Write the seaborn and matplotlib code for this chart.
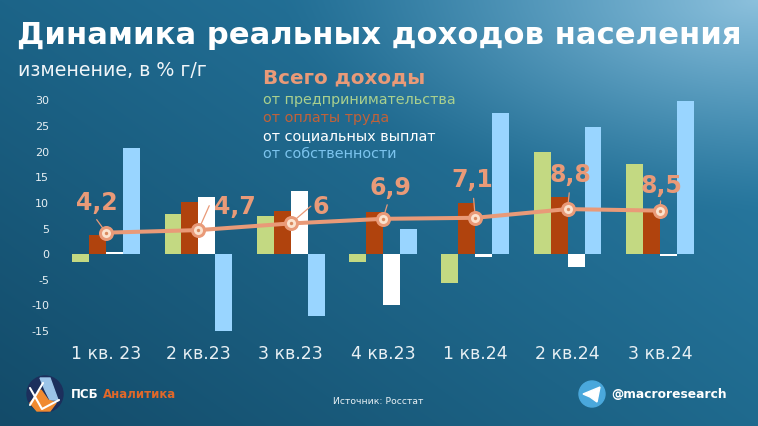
import matplotlib
matplotlib.use("Agg")
import matplotlib.pyplot as plt
from matplotlib.patches import Circle, Polygon
import numpy as np
import pandas as pd
import seaborn as sns

quarters = ["1 кв. 23", "2 кв.23", "3 кв.23", "4 кв.23", "1 кв.24", "2 кв.24", "3 кв.24"]
business = [-1.5, 7.9, 7.5, -1.5, -5.7, 20.0, 17.6]
wages = [3.7, 10.1, 8.4, 8.3, 10.0, 11.2, 8.5]
social = [0.4, 11.2, 12.3, -9.9, -0.5, -2.5, -0.3]
property_inc = [20.8, -15.0, -12.0, 5.0, 27.6, 24.9, 30.0]
total = [4.2, 4.7, 6.0, 6.9, 7.1, 8.8, 8.5]
total_labels = ["4,2", "4,7", "6", "6,9", "7,1", "8,8", "8,5"]
series_names = ["от предпринимательства", "от оплаты труда", "от социальных выплат", "от собственности"]
y_ticks = [-15, -10, -5, 0, 5, 10, 15, 20, 25, 30]

# label centre and leader end, as offsets from the point in points
label_offsets = [(-7, 21), (26, 16.5), (21.5, 12), (5, 22), (-2, 27), (2, 24.5), (1, 17.5)]
leader_offsets = [(-8, 11), (8.6, 19.4), (16, 13.7), (3.6, 12), (-1.4, 16), (1.4, 13.7), (0.7, 9)]

BAR_COLORS = ["#c3d982", "#b0430d", "#ffffff", "#99d5ff"]
LEGEND_COLORS = ["#a9d08e", "#c0623a", "#ffffff", "#7cc4ee"]
ORANGE = "#e99a78"
W, H = 758, 426

sns.set_theme(style="white")
plt.rcParams["font.family"] = ["DejaVu Sans"]
plt.rcParams["axes.unicode_minus"] = False

df = pd.DataFrame({"quarter": quarters, series_names[0]: business, series_names[1]: wages,
                   series_names[2]: social, series_names[3]: property_inc})
long_df = df.melt(id_vars="quarter", var_name="source", value_name="change")

fig = plt.figure(figsize=(W / 100, H / 100), dpi=100)

# gradient background: four corners plus a light glow top right
bg = fig.add_axes([0, 0, 1, 1], zorder=0)
yy, xx = np.mgrid[0:1:426j, 0:1:758j]
xx, yy = xx[..., None], yy[..., None]
tl, tr = np.array([0x1c, 0x64, 0x88]) / 255, np.array([0x2c, 0x80, 0xaa]) / 255
bl, br = np.array([0x13, 0x4b, 0x69]) / 255, np.array([0x1f, 0x6a, 0x8e]) / 255
img = (tl * (1 - xx) + tr * xx) * (1 - yy) + (bl * (1 - xx) + br * xx) * yy
glow = np.clip(1 - np.hypot((1 - xx) * 1.6, yy * 2.0), 0, 1) ** 1.3
light = np.array([0x8c, 0xc0, 0xdc]) / 255
img = img + (light - img) * glow
bg.imshow(img, extent=[0, W, H, 0], aspect="auto", interpolation="bilinear")
bg.set_xlim(0, W)
bg.set_ylim(H, 0)
bg.axis("off")

ax = fig.add_axes([60 / W, 1 - 331 / H, 646 / W, 230.5 / H], zorder=1)
ax.patch.set_alpha(0)
sns.barplot(data=long_df, x="quarter", y="change", hue="source", palette=BAR_COLORS,
            width=0.735, gap=0, saturation=1, legend=False, ax=ax, zorder=2)
for patch in ax.patches:
    patch.set_linewidth(0)

positions = np.arange(len(quarters))
sns.lineplot(x=positions, y=total, color=ORANGE, linewidth=2.9, ax=ax, zorder=4)
ax.scatter(positions, total, s=117, color=ORANGE, zorder=5, linewidths=0)
ax.scatter(positions, total, s=42, color="#fbe3cf", zorder=6, linewidths=0)
ax.scatter(positions, total, s=6, color="#d98a5f", zorder=7, linewidths=0)

for x, val, label, offset, end in zip(positions, total, total_labels, label_offsets, leader_offsets):
    ax.annotate(label, xy=(x, val), xytext=offset, textcoords="offset points",
                ha="center", va="center", fontsize=17, fontweight="bold", color=ORANGE, zorder=8)
    ax.annotate("", xy=(x, val), xytext=end, textcoords="offset points", zorder=3,
                arrowprops=dict(arrowstyle="-", color=ORANGE, linewidth=0.9))

ax.set_xlim(-0.5, 6.5)
ax.set_ylim(-15, 30)
ax.set_yticks(y_ticks)
ax.set_xlabel("")
ax.set_ylabel("")
ax.tick_params(axis="y", length=0, labelsize=8, labelcolor="#e8f0f4", pad=7.8)
ax.tick_params(axis="x", length=0, labelsize=12.5, labelcolor="#e8f0f4", pad=10)
sns.despine(ax=ax, left=True, bottom=True)

bg.text(379, 35, "Динамика реальных доходов населения", color="white", fontsize=22.1,
        fontweight="bold", ha="center", va="center")
bg.text(18, 71, "изменение, в % г/г", color="#f0f5f8", fontsize=13.7, ha="left", va="center")
bg.text(263, 78, "Всего доходы", color=ORANGE, fontsize=14.3, fontweight="bold", ha="left", va="center")
for y, name, color in zip([100, 118, 136, 154], series_names, LEGEND_COLORS):
    bg.text(263, y, name, color=color, fontsize=10.4, ha="left", va="center")

bg.text(378.5, 402, "Источник: Росстат", color="#e8f0f4", fontsize=6.7, ha="center", va="center")

# PSB logo
bg.add_patch(Circle((45, 394), 18, color="#1c2f5c", zorder=2))
bg.add_patch(Polygon([(40, 378), (50, 378), (58, 400), (50, 400), (45, 390)], color="#9cc4e8", zorder=3))
bg.add_patch(Polygon([(30, 403), (41, 390), (48, 400), (56, 403), (50, 411), (37, 411)], color="#f08a30", zorder=3))
bg.plot([30, 42, 59], [388, 409, 400], color="white", linewidth=1.5, zorder=4)
bg.plot([30, 43], [405, 383], color="white", linewidth=1.5, zorder=4)
bg.text(71, 395, "ПСБ", color="white", fontsize=8.5, fontweight="bold", ha="left", va="center")
bg.text(103, 395, "Аналитика", color="#e0682a", fontsize=8.5, fontweight="bold", ha="left", va="center")

# telegram mark
bg.add_patch(Circle((592, 394), 13, color="#4aa8dc", zorder=2))
bg.add_patch(Polygon([(583, 394), (600, 387), (597, 402), (590, 397)], color="white", zorder=3))
bg.text(611, 394, "@macroresearch", color="white", fontsize=8.8, fontweight="bold", ha="left", va="center")

fig.savefig("out.png", dpi=100)
